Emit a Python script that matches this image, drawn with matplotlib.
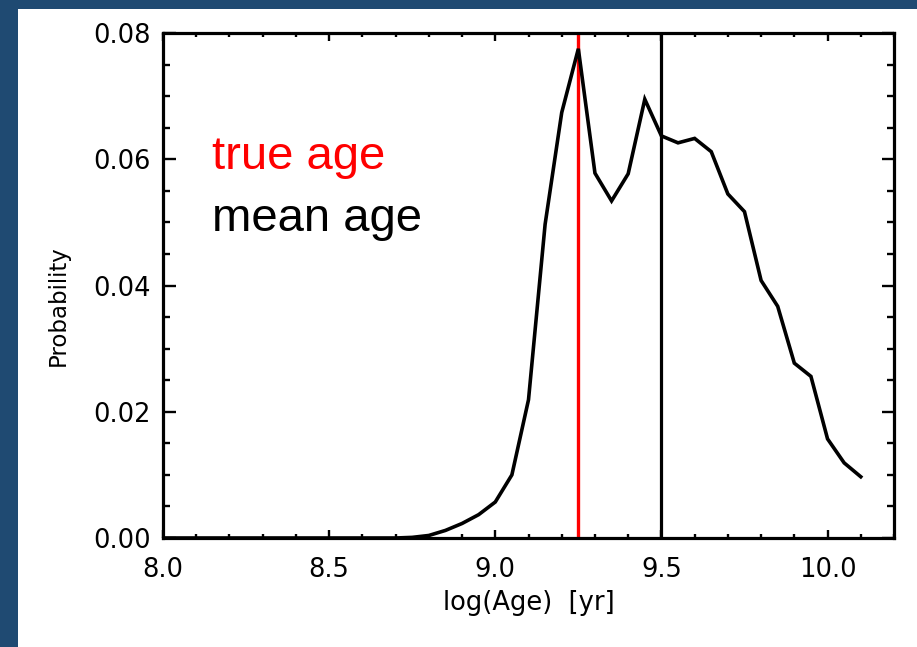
import matplotlib
matplotlib.use('Agg')
import matplotlib.pyplot as plt
from matplotlib.patches import Rectangle
from matplotlib.ticker import MultipleLocator, FormatStrFormatter

BLUE = '#1f4a72'

# age grid (log yr) and probability of each bin
log_age = [8.00, 8.05, 8.10, 8.15, 8.20, 8.25, 8.30, 8.35, 8.40, 8.45,
           8.50, 8.55, 8.60, 8.65, 8.70, 8.75, 8.80, 8.85, 8.90, 8.95,
           9.00, 9.05, 9.10, 9.15, 9.20, 9.25, 9.30, 9.35, 9.40, 9.45,
           9.50, 9.55, 9.60, 9.65, 9.70, 9.75, 9.80, 9.85, 9.90, 9.95,
           10.00, 10.05, 10.10]
prob = [0.0, 0.0, 0.0, 0.0, 0.0, 0.0, 0.0, 0.0, 0.0, 0.0,
        0.0, 0.0, 0.0, 0.0, 0.0, 0.0001, 0.0004, 0.0012, 0.0023, 0.0037,
        0.0057, 0.0100, 0.0219, 0.0497, 0.0674, 0.0775, 0.0578, 0.0534, 0.0577, 0.0695,
        0.0637, 0.0626, 0.0633, 0.0612, 0.0545, 0.0517, 0.0408, 0.0367, 0.0277, 0.0256,
        0.0157, 0.0119, 0.0097]

true_age = 9.25
mean_age = 9.50

fig = plt.figure(figsize=(9.17, 6.47), dpi=100)
fig.patch.set_facecolor(BLUE)
# white slide panel behind the plot
fig.patches.append(Rectangle((18 / 917, 0), 1, (647 - 9) / 647,
                             transform=fig.transFigure, facecolor='white',
                             edgecolor='none', zorder=-10))

ax = fig.add_axes([163 / 917, 109 / 647, 731 / 917, 505 / 647])
ax.set_facecolor('white')

ax.plot(log_age, prob, color='black', lw=2.6, solid_joinstyle='miter', zorder=3)
ax.axvline(true_age, color='#ff0000', lw=2.4, zorder=2)
ax.axvline(mean_age, color='black', lw=2.3, zorder=2)

ax.set_xlim(8.0, 10.2)
ax.set_ylim(0.0, 0.08)

ax.xaxis.set_major_locator(MultipleLocator(0.5))
ax.xaxis.set_minor_locator(MultipleLocator(0.1))
ax.yaxis.set_major_locator(MultipleLocator(0.02))
ax.yaxis.set_minor_locator(MultipleLocator(0.005))
ax.xaxis.set_major_formatter(FormatStrFormatter('%.1f'))
ax.yaxis.set_major_formatter(FormatStrFormatter('%.2f'))

for s in ax.spines.values():
    s.set_linewidth(2.3)

ax.tick_params(axis='both', which='both', direction='in',
               top=True, right=True, width=1.7, labelsize=18.5)
ax.tick_params(axis='x', which='major', length=6, pad=14)
ax.tick_params(axis='x', which='minor', length=3)
ax.tick_params(axis='y', which='major', length=9, pad=9)
ax.tick_params(axis='y', which='minor', length=5)

ax.set_xlabel('log(Age)  [yr]', fontsize=18.5, labelpad=5)
ax.set_ylabel('Probability', fontsize=16.5)
ax.yaxis.set_label_coords(-0.128, 0.46)

ax.text(8.147, 0.0584, 'true age', color='#ff0000', fontsize=34,
        family='Liberation Sans', va='baseline', ha='left')
ax.text(8.147, 0.0486, 'mean age', color='black', fontsize=34,
        family='Liberation Sans', va='baseline', ha='left')

fig.savefig('out.png', dpi=100, facecolor=BLUE)
